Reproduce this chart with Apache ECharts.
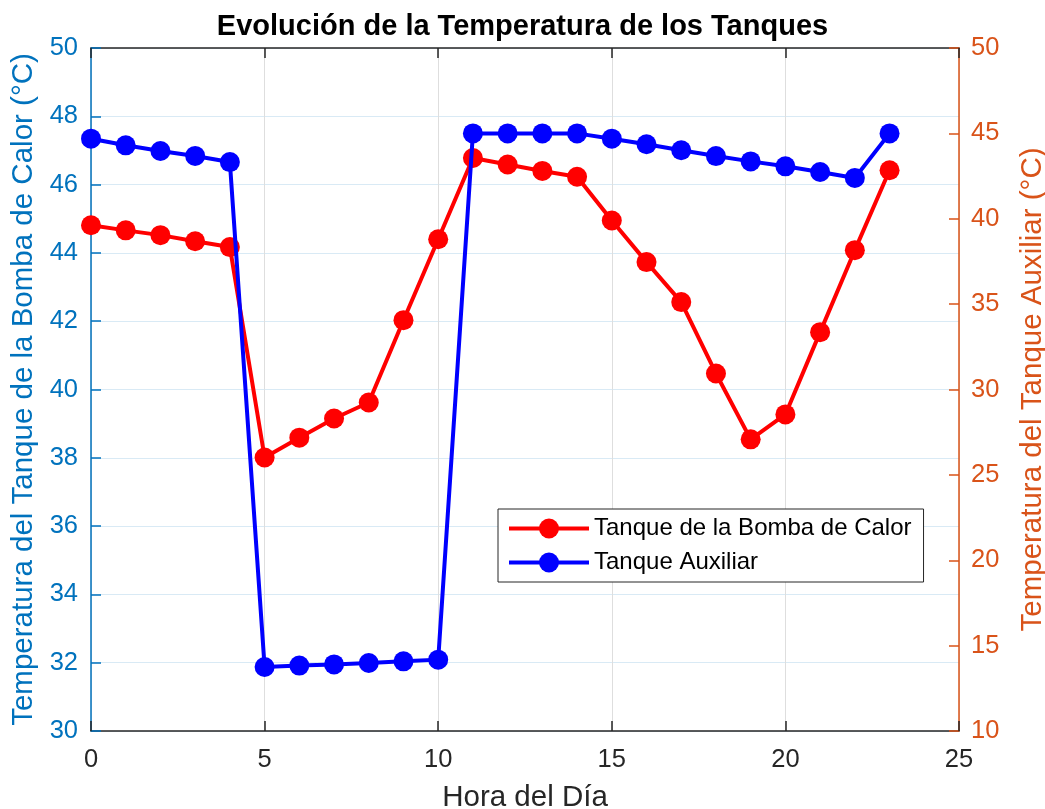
<!DOCTYPE html>
<html>
<head>
<meta charset="utf-8">
<script src="https://cdn.jsdelivr.net/npm/echarts@6/dist/echarts.min.js"></script>
<style>
html,body{margin:0;padding:0;background:#fff;}
#chart{width:1045px;height:809px;}
</style>
</head>
<body>
<div id="chart"></div>
<script>
// Data
const hours = [0,1,2,3,4,5,6,7,8,9,10,11,12,13,14,15,16,17,18,19,20,21,22,23];
const heatPumpTank = [44.81,44.66,44.52,44.34,44.17,38.01,38.59,39.15,39.62,42.03,44.40,46.78,46.59,46.40,46.23,44.95,43.73,42.56,40.47,38.54,39.27,41.68,44.08,46.42];
const auxTank = [44.69,44.30,43.97,43.68,43.32,13.75,13.83,13.90,13.98,14.08,14.18,45.00,45.00,45.00,45.00,44.69,44.36,44.01,43.67,43.36,43.07,42.74,42.39,45.00];
const xTicks = [0,5,10,15,20,25];
const seriesNames = ['Tanque de la Bomba de Calor','Tanque Auxiliar'];

const FONT = 'Liberation Sans, Arial, Helvetica, sans-serif';
const LEFT_C = '#0072BD';
const RIGHT_C = '#D95319';
const AX_C = '#262626';

const chart = echarts.init(document.getElementById('chart'), null, {renderer:'canvas'});
chart.setOption({
  animation: false,
  backgroundColor: '#ffffff',
  title: {
    text: 'Evolución de la Temperatura de los Tanques',
    left: 'center',
    top: 7,
    textStyle: {fontFamily: FONT, fontSize: 29, fontWeight: 'bold', color: '#000'}
  },
  grid: {left: 91, top: 48, width: 868, height: 683, outerBoundsMode: 'none', containLabel: false},
  legend: {
    orient: 'vertical',
    left: 498,
    top: 509,
    padding: [7, 12, 7, 9],
    itemWidth: 80,
    itemHeight: 25,
    itemGap: 9,
    backgroundColor: '#fff',
    borderColor: '#262626',
    borderWidth: 1,
    borderRadius: 0,
    lineStyle: {width: 4},
    textStyle: {fontFamily: FONT, fontSize: 24, color: '#000', lineHeight: 25},
    data: seriesNames
  },
  xAxis: [{
    type: 'value',
    min: 0, max: 25, interval: 5,
    name: 'Hora del Día',
    nameLocation: 'middle',
    nameGap: 52,
    nameTextStyle: {fontFamily: FONT, fontSize: 29.5, color: AX_C},
    axisLine: {show: true, onZero: false, lineStyle: {color: AX_C, width: 1.5}},
    axisTick: {show: true, inside: true, length: 10, lineStyle: {color: AX_C, width: 1.5}},
    axisLabel: {fontFamily: FONT, fontSize: 25.5, color: AX_C, margin: 16},
    splitLine: {show: true, lineStyle: {color: '#dedede', width: 1}}
  },{
    type: 'value',
    position: 'top',
    min: 0, max: 25, interval: 5,
    axisLine: {show: true, onZero: false, lineStyle: {color: AX_C, width: 1.5}},
    axisTick: {show: true, inside: true, length: 10, lineStyle: {color: AX_C, width: 1.5}},
    axisLabel: {show: false},
    splitLine: {show: false}
  }],
  yAxis: [{
    type: 'value',
    position: 'left',
    min: 30, max: 50, interval: 2,
    name: 'Temperatura del Tanque de la Bomba de Calor (°C)',
    nameLocation: 'middle',
    nameRotate: 90,
    nameGap: 51,
    nameTextStyle: {fontFamily: FONT, fontSize: 29.5, color: LEFT_C},
    axisLine: {show: true, onZero: false, lineStyle: {color: LEFT_C, width: 1.5}},
    axisTick: {show: true, inside: true, length: 10, lineStyle: {color: LEFT_C, width: 1.5}},
    axisLabel: {fontFamily: FONT, fontSize: 25.5, color: LEFT_C, margin: 13},
    splitLine: {show: true, lineStyle: {color: '#d9eaf5', width: 1}}
  },{
    type: 'value',
    position: 'right',
    min: 10, max: 50, interval: 5,
    name: 'Temperatura del Tanque Auxiliar (°C)',
    nameLocation: 'middle',
    nameRotate: 90,
    nameGap: 59,
    nameTextStyle: {fontFamily: FONT, fontSize: 29.5, color: RIGHT_C},
    axisLine: {show: true, onZero: false, lineStyle: {color: RIGHT_C, width: 1.5}},
    axisTick: {show: true, inside: true, length: 10, lineStyle: {color: RIGHT_C, width: 1.5}},
    axisLabel: {fontFamily: FONT, fontSize: 25.5, color: RIGHT_C, margin: 12},
    splitLine: {show: false}
  }],
  series: [{
    name: seriesNames[0],
    type: 'line',
    xAxisIndex: 0,
    yAxisIndex: 0,
    data: hours.map((h, i) => [h, heatPumpTank[i]]),
    symbol: 'circle',
    symbolSize: 20,
    lineStyle: {color: '#FF0000', width: 4},
    itemStyle: {color: '#FF0000'},
    z: 2
  },{
    name: seriesNames[1],
    type: 'line',
    xAxisIndex: 0,
    yAxisIndex: 1,
    data: hours.map((h, i) => [h, auxTank[i]]),
    symbol: 'circle',
    symbolSize: 20,
    lineStyle: {color: '#0000FF', width: 4},
    itemStyle: {color: '#0000FF'},
    z: 3
  }]
});
</script>
</body>
</html>
